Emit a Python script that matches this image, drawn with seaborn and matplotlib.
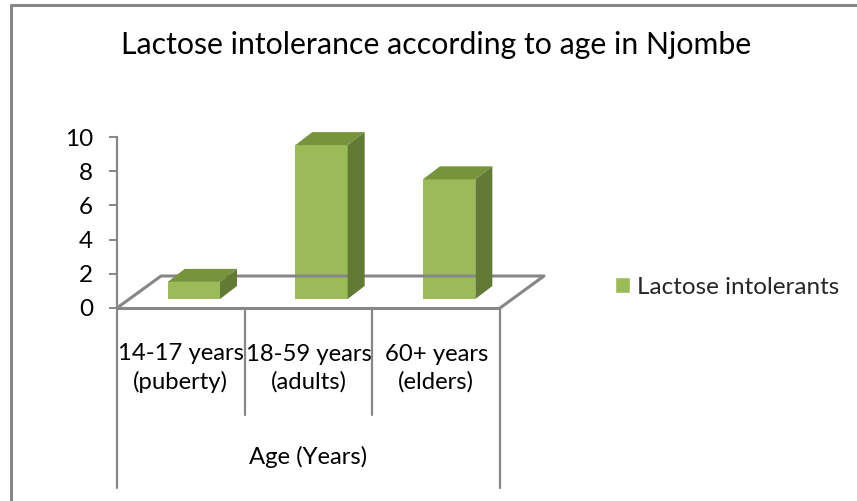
import matplotlib
matplotlib.use("Agg")
import matplotlib.pyplot as plt
import seaborn as sns
from matplotlib.patches import Polygon, Patch
from matplotlib.transforms import IdentityTransform, ScaledTranslation

# data
categories = ["14-17 years\n(puberty)", "18-59 years\n(adults)", "60+ years\n(elders)"]
values = [1, 9, 7]
series_name = "Lactose intolerants"
title = "Lactose intolerance according to age in Njombe"
xlabel = "Age (Years)"
yticks = [0, 2, 4, 6, 8, 10]

FRONT = "#9bbb59"
TOP = "#77933c"
SIDE = "#627a33"
GRAY = "#878787"

sns.set_theme(style="white")
plt.rcParams["font.family"] = ["Lato", "DejaVu Sans"]

W, H = 857, 501
fig = plt.figure(figsize=(W / 100, H / 100), dpi=100)


def fx(px):
    return px / W


def fy(py):
    # py measured from the top of the picture
    return 1 - py / H


# axes whose y range is the front plane of the 3d box
ax = fig.add_axes([fx(117), fy(308), fx(500) - fx(117), fy(137) - fy(308)])
sns.barplot(x=categories, y=values, color=FRONT, saturation=1, width=0.41,
            errorbar=None, ax=ax, zorder=3)
ax.set_xlim(-0.5, 2.5)
ax.set_ylim(0, 10)
ax.set_facecolor("none")

# bars sit a bit deeper in the box than the front plane
bar_shift = ScaledTranslation(13 / 100, 9 / 100, fig.dpi_scale_trans)
depth = (17, 13)
for p in ax.patches:
    p.set_transform(ax.transData + bar_shift)
    p.set_edgecolor("none")
    x0, x1 = p.get_x(), p.get_x() + p.get_width()
    (ax0, ay0), (ax1, ay1) = ax.transData.transform([(x0, 0), (x1, p.get_height())])
    ax0 += 13; ax1 += 13; ay0 += 9; ay1 += 9
    dx, dy = depth
    top = Polygon([(ax0, ay1), (ax1, ay1), (ax1 + dx, ay1 + dy), (ax0 + dx, ay1 + dy)],
                  closed=True, facecolor=TOP, edgecolor="none",
                  transform=IdentityTransform(), zorder=4)
    side = Polygon([(ax1, ay0), (ax1, ay1), (ax1 + dx, ay1 + dy), (ax1 + dx, ay0 + dy)],
                   closed=True, facecolor=SIDE, edgecolor="none",
                   transform=IdentityTransform(), zorder=4)
    fig.add_artist(top)
    fig.add_artist(side)

# floor of the 3d box
(fl, fb), (fr, _) = ax.transData.transform([(-0.5, 0), (2.5, 0)])
back = (44, 32)
floor_kw = dict(color=GRAY, lw=2.2, transform=IdentityTransform(), solid_capstyle="butt")
fig.add_artist(plt.Line2D([fl, fl + back[0], fr + back[0], fr],
                          [fb, fb + back[1], fb + back[1], fb], zorder=1, **floor_kw))
fig.add_artist(plt.Line2D([fl, fr], [fb, fb], zorder=5, **floor_kw))

# y axis
for s in ["top", "right", "bottom"]:
    ax.spines[s].set_visible(False)
ax.spines["left"].set_color(GRAY)
ax.spines["left"].set_linewidth(1.6)
ax.set_yticks(yticks)
ax.tick_params(axis="y", left=True, length=5.8, width=1.4, color=GRAY,
               pad=11.5, labelsize=17.5, labelcolor="black")
ax.set_xticks([])
ax.set_xlabel("")

# category table under the floor
xt = ax.get_xaxis_transform()


def yax(py):
    return (308 - py) / 171


for xv, bottom in [(-0.5, 488), (0.5, 415), (1.5, 415), (2.5, 488)]:
    ax.plot([xv, xv], [yax(308), yax(bottom)], transform=xt, color=GRAY,
            lw=1.6, clip_on=False)
for i, lab in enumerate(categories):
    ax.text(i, yax(368), lab, transform=xt, ha="center", va="center",
            fontsize=17.2, color="black", linespacing=1.35)
ax.text(1, yax(457), xlabel, transform=xt, ha="center", va="center",
        fontsize=17.2, color="black")

# title, legend and frame
fig.text(fx(436), fy(45), title, ha="center", va="center", fontsize=21.8, color="black")
fig.legend(handles=[Patch(facecolor=FRONT, label=series_name)], loc="center left",
           bbox_to_anchor=(fx(615), fy(287)), frameon=False, fontsize=17.5,
           handlelength=0.62, handleheight=0.62, handletextpad=0.3, borderpad=0,
           borderaxespad=0)
fig.add_artist(plt.Line2D([fx(11), fx(11), 1], [0, fy(5), fy(5)], color=GRAY,
                          lw=2.2, transform=fig.transFigure))

fig.savefig("out.png", dpi=100)
